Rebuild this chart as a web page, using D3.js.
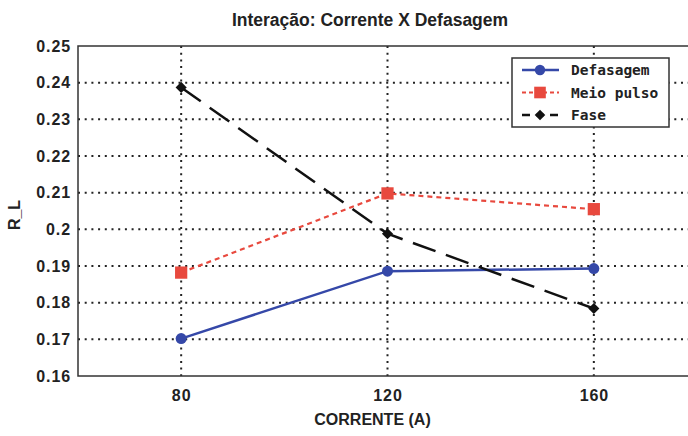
<!DOCTYPE html>
<html><head><meta charset="utf-8">
<script src="https://cdn.jsdelivr.net/npm/d3@7"></script>
<style>
body{margin:0;background:#fff;}
svg{display:block;}
.cond{font-family:"Liberation Sans",Arial,sans-serif;font-weight:bold;}
.mono{font-family:"DejaVu Sans Mono","Liberation Mono",monospace;font-weight:bold;}
</style></head>
<body><svg id="c" width="688" height="436"></svg>
<script>
const categories = [80, 120, 160];
const defasagem = [0.1702, 0.1886, 0.1893];
const meioPulso = [0.1882, 0.2098, 0.2055];
const fase = [0.2387, 0.1988, 0.1784];
const yTicks = [0.16,0.17,0.18,0.19,0.2,0.21,0.22,0.23,0.24,0.25];
const yTickLabels = ["0.16","0.17","0.18","0.19","0.2","0.21","0.22","0.23","0.24","0.25"];
const seriesNames = ["Defasagem","Meio pulso","Fase"];
const titleText = "Interação: Corrente X Defasagem";
const xLabel = "CORRENTE (A)";
const yLabel = "R_L";

const svg = d3.select("#c");
const L=78, T=46, R=697, B=376;
const x = d3.scaleLinear().domain([60,180]).range([L,R]);
const y = d3.scaleLinear().domain([0.16,0.25]).range([B,T]);

// grid
const g = svg.append("g");
g.selectAll(".hg").data(yTicks.slice(1,-1)).enter().append("line")
  .attr("x1",L).attr("x2",R).attr("y1",d=>y(d)).attr("y2",d=>y(d))
  .attr("stroke","#222").attr("stroke-width",2).attr("stroke-dasharray","2 4.7");
g.selectAll(".vg").data(categories).enter().append("line")
  .attr("y1",T).attr("y2",B).attr("x1",d=>x(d)).attr("x2",d=>x(d))
  .attr("stroke","#222").attr("stroke-width",2).attr("stroke-dasharray","2 4.7");

// frame
svg.append("rect").attr("x",L).attr("y",T).attr("width",R-L).attr("height",B-T)
  .attr("fill","none").attr("stroke","#333").attr("stroke-width",1.5);

// axes labels
svg.selectAll(".yt").data(yTicks).enter().append("text").attr("class","cond")
  .attr("x",71).attr("y",d=>y(d)+5.7).attr("text-anchor","end")
  .attr("font-size",16).attr("letter-spacing",0.9).attr("fill","#222").text((d,i)=>yTickLabels[i]);
svg.selectAll(".xt").data(categories).enter().append("text").attr("class","cond")
  .attr("x",d=>x(d)+0.5).attr("y",401).attr("text-anchor","middle")
  .attr("font-size",16).attr("letter-spacing",0.9).attr("fill","#222").text(d=>d);
svg.append("text").attr("class","cond").attr("x",372.5).attr("y",425)
  .attr("text-anchor","middle").attr("font-size",16).attr("fill","#222").text(xLabel);
svg.append("text").attr("class","cond").attr("transform","translate(20,215) rotate(-90)")
  .attr("text-anchor","middle").attr("font-size",16).attr("fill","#222").text(yLabel);
svg.append("text").attr("class","cond").attr("x",370).attr("y",26)
  .attr("text-anchor","middle").attr("font-size",17.5).attr("fill","#222").text(titleText);

const line = d3.line().x((d,i)=>x(categories[i])).y(d=>y(d));
const series = [
  {name:seriesNames[0], data:defasagem, color:"#3548a8", dash:null, w:2.5, sym:d3.symbolCircle, size:95, rot:0},
  {name:seriesNames[1], data:meioPulso, color:"#e8493e", dash:"5 4", w:2.2, sym:d3.symbolSquare, size:150, rot:0},
  {name:seriesNames[2], data:fase, color:"#111", dash:"24 11", w:2.5, sym:d3.symbolSquare, size:62, rot:45}
];
series.forEach(s=>{
  svg.append("path").datum(s.data).attr("d",line).attr("fill","none")
    .attr("stroke",s.color).attr("stroke-width",s.w).attr("stroke-dasharray",s.dash);
  svg.selectAll(null).data(s.data).enter().append("path")
    .attr("d",d3.symbol().type(s.sym).size(s.size))
    .attr("transform",(d,i)=>`translate(${x(categories[i])},${y(d)}) rotate(${s.rot})`)
    .attr("fill",s.color);
});

// legend
const lg = svg.append("g");
lg.append("rect").attr("x",512).attr("y",58).attr("width",157).attr("height",69)
  .attr("fill","#fff").attr("stroke","#333").attr("stroke-width",1.5);
series.forEach((s,i)=>{
  const yy = 70 + i*22.5;
  lg.append("line").attr("x1",522).attr("x2",559).attr("y1",yy).attr("y2",yy)
    .attr("stroke",s.color).attr("stroke-width",s.w)
    .attr("stroke-dasharray", i===1?"4 3": (i===2?"8 6":null));
  lg.append("path").attr("d",d3.symbol().type(s.sym).size(s.size*0.9))
    .attr("transform",`translate(540,${yy}) rotate(${s.rot})`).attr("fill",s.color);
  lg.append("text").attr("class","mono").attr("x",571).attr("y",yy+5)
    .attr("font-size",14.5).attr("fill","#222").text(s.name);
});
</script></body></html>
